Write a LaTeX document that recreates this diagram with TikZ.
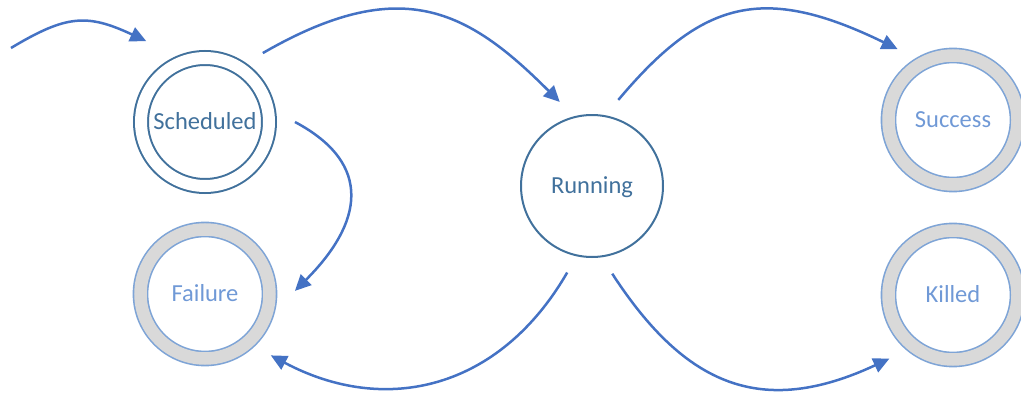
\documentclass[tikz,border=0pt]{standalone}
\usepackage{fontspec}
\setmainfont{Carlito}
\usetikzlibrary{arrows.meta}

\definecolor{statedark}{RGB}{65,113,156}
\definecolor{ringline}{RGB}{126,164,214}
\definecolor{ringtext}{RGB}{112,153,214}
\definecolor{ringfill}{RGB}{217,217,217}
\definecolor{flow}{RGB}{68,114,196}

\begin{document}
\begin{tikzpicture}[x=1pt,y=1pt,
  statefont/.style={font=\fontsize{24.5}{29}\selectfont, text height=15.8pt, text depth=0pt},
  startstate/.style={circle, statefont, draw=statedark, line width=2pt,
    double=white, double distance=12pt, minimum size=128pt, inner sep=0pt,
    outer sep=26pt, text=statedark},
  activestate/.style={circle, statefont, draw=statedark, line width=2pt,
    minimum size=142pt, inner sep=0pt, outer sep=19pt, text=statedark},
  endstate/.style={circle, statefont, draw=ringline, line width=1.6pt,
    double=ringfill, double distance=12.5pt, minimum size=129pt, inner sep=0pt,
    outer sep=25.5pt, text=ringtext},
  flowarrow/.style={draw=flow, line width=2.5pt,
    -{Triangle[length=16pt,width=15pt]}},
]
\useasboundingbox (0,0) rectangle (1021,392);

% states
\node[startstate]  (sched) at (205,270) {Scheduled};
\node[endstate]    (fail)  at (205,98)  {Failure};
\node[activestate] (run)   at (592,206) {Running};
\node[endstate]    (succ)  at (953,272) {Success};
\node[endstate]    (kill)  at (953,97)  {Killed};

% initial transition
\coordinate (entry) at (11,344);
\draw[flowarrow] (entry) .. controls +(31:65pt) and +(155:65pt) .. ([shift={(126:10pt)}]sched.126);

% transitions between states
\draw[flowarrow] (sched.50) .. controls +(30:160pt) and +(135:130pt) .. (run.111);
\draw[flowarrow] (run.73) .. controls +(50:130pt) and +(154:150pt) .. (succ.128);
\draw[flowarrow] (sched.0) .. controls +(-28:90pt) and +(45:95pt) .. (fail.2);
\draw[flowarrow] (run.-106) .. controls +(240:135pt) and +(-28:130pt) .. (fail.-43);
\draw[flowarrow] (run.-77) .. controls +(-57:135pt) and +(205:140pt) .. (kill.-135);
\end{tikzpicture}
\end{document}
